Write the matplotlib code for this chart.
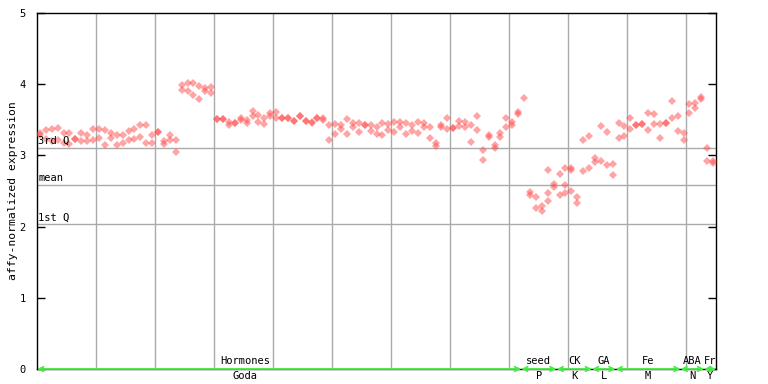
import numpy as np
import matplotlib
matplotlib.use("Agg")
import matplotlib.pyplot as plt

# upper / lower replicate per sample
rep_hi = [3.32, 3.36, 3.37, 3.38, 3.32, 3.31, 3.23, 3.31, 3.29, 3.37,
          3.37, 3.36, 3.31, 3.28, 3.29, 3.34, 3.37, 3.43, 3.42, 3.29,
          3.33, 3.20, 3.29, 3.22, 3.99, 4.01, 4.01, 3.97, 3.95, 3.96,
          3.51, 3.51, 3.47, 3.45, 3.53, 3.50, 3.63, 3.57, 3.53, 3.59,
          3.61, 3.53, 3.52, 3.49, 3.56, 3.48, 3.47, 3.52, 3.52, 3.42,
          3.44, 3.42, 3.51, 3.46, 3.45, 3.42, 3.42, 3.40, 3.45, 3.44,
          3.47, 3.47, 3.45, 3.42, 3.47, 3.45, 3.40, 3.17, 3.43, 3.52,
          3.38, 3.49, 3.47, 3.42, 3.56, 3.08, 3.29, 3.14, 3.32, 3.53,
          3.47, 3.61, 3.80, 2.48, 2.41, 2.29, 2.80, 2.60, 2.74, 2.82,
          2.82, 2.41, 3.22, 3.27, 2.96, 3.41, 3.33, 2.88, 3.46, 3.41,
          3.52, 3.42, 3.44, 3.59, 3.58, 3.44, 3.46, 3.77, 3.56, 3.31,
          3.72, 3.73, 3.82, 3.11, 2.92]
rep_lo = [3.29, 3.23, 3.20, 3.22, 3.17, 3.16, 3.23, 3.20, 3.20, 3.21,
          3.25, 3.15, 3.25, 3.14, 3.18, 3.21, 3.23, 3.26, 3.17, 3.17,
          3.33, 3.16, 3.22, 3.05, 3.92, 3.90, 3.85, 3.79, 3.91, 3.87,
          3.51, 3.51, 3.42, 3.45, 3.50, 3.45, 3.56, 3.47, 3.44, 3.56,
          3.52, 3.53, 3.52, 3.49, 3.56, 3.48, 3.46, 3.52, 3.50, 3.22,
          3.30, 3.37, 3.30, 3.40, 3.33, 3.42, 3.34, 3.30, 3.28, 3.36,
          3.33, 3.40, 3.30, 3.34, 3.31, 3.40, 3.24, 3.13, 3.40, 3.37,
          3.38, 3.41, 3.40, 3.19, 3.36, 2.94, 3.26, 3.11, 3.26, 3.40,
          3.42, 3.58, np.nan, 2.45, 2.26, 2.22, 2.47, 2.55, 2.45, 2.59,
          2.79, 2.33, 2.78, 2.83, 2.91, 2.92, 2.86, 2.72, 3.25, 3.27,
          3.37, 3.42, 3.44, 3.35, 3.44, 3.25, 3.46, 3.53, 3.34, 3.22,
          3.59, 3.67, 3.79, 2.92, 2.89]
extra_idx = [86, 89, 90]
extra_val = [2.36, 2.47, 2.50]

q3, mean, q1 = 3.10, 2.58, 2.03

groups = ["Hormones", "seed", "CK", "GA", "Fe", "ABA", "Fr"]
sources = ["Goda", "P", "K", "L", "M", "N", "Y"]
g_start = [0, 82, 88, 94, 98, 109, 113]
g_end = [82, 88, 94, 98, 109, 113, 115]

n = len(rep_hi)
x = np.arange(n) + 0.5

fig = plt.figure(figsize=(7.68, 3.84), dpi=100)
ax = fig.add_axes([37/768, 15/384, 679/768, 356/384])
mono = "DejaVu Sans Mono"
fs = 7.5

ax.set_xlim(0, n)
ax.set_ylim(0, 5)

for gx in range(10, n, 10):
    ax.axvline(gx, color="#aaaaaa", lw=1, zorder=1)
for yv, lab in [(q3, "3rd Q"), (mean, "mean"), (q1, "1st Q")]:
    ax.axhline(yv, color="#aaaaaa", lw=1, zorder=1)
    ax.text(0.2, yv + 0.03, lab, fontsize=fs, family=mono, ha="left", va="bottom", zorder=4)

mk = dict(marker="D", ms=4, ls="none", color="#ff4a4a", alpha=0.5, mew=0, zorder=3)
ax.plot(x, rep_hi, **mk)
ax.plot(x, rep_lo, **mk)
ax.plot(np.array(extra_idx) + 0.5, extra_val, **mk)

for g, s, a, b in zip(groups, sources, g_start, g_end):
    ax.annotate("", xy=(b, 0), xytext=(a, 0),
                arrowprops=dict(arrowstyle="<->", color="#44ee44", lw=1.3,
                                shrinkA=0, shrinkB=0, mutation_scale=8),
                annotation_clip=False, zorder=5)
    cx = 35.2 if g == "Hormones" else (a + b) / 2
    ax.text(cx, 0.04, g, fontsize=fs, family=mono, ha="center", va="bottom", zorder=6)
    ax.text(cx, -0.03, s, fontsize=fs, family=mono, ha="center", va="top", clip_on=False)

ax.set_xticks([])
ax.set_yticks(range(6))
ax.set_yticklabels([str(v) for v in range(6)], family=mono, fontsize=fs)
ax.tick_params(axis="y", direction="in", length=6, width=1, pad=8, right=True, colors="black")
for sp in ax.spines.values():
    sp.set_color("black")
    sp.set_linewidth(1)
ax.set_ylabel("affy-normalized expression", family=mono, fontsize=8.2, labelpad=1)

fig.savefig("out.png", dpi=100)
